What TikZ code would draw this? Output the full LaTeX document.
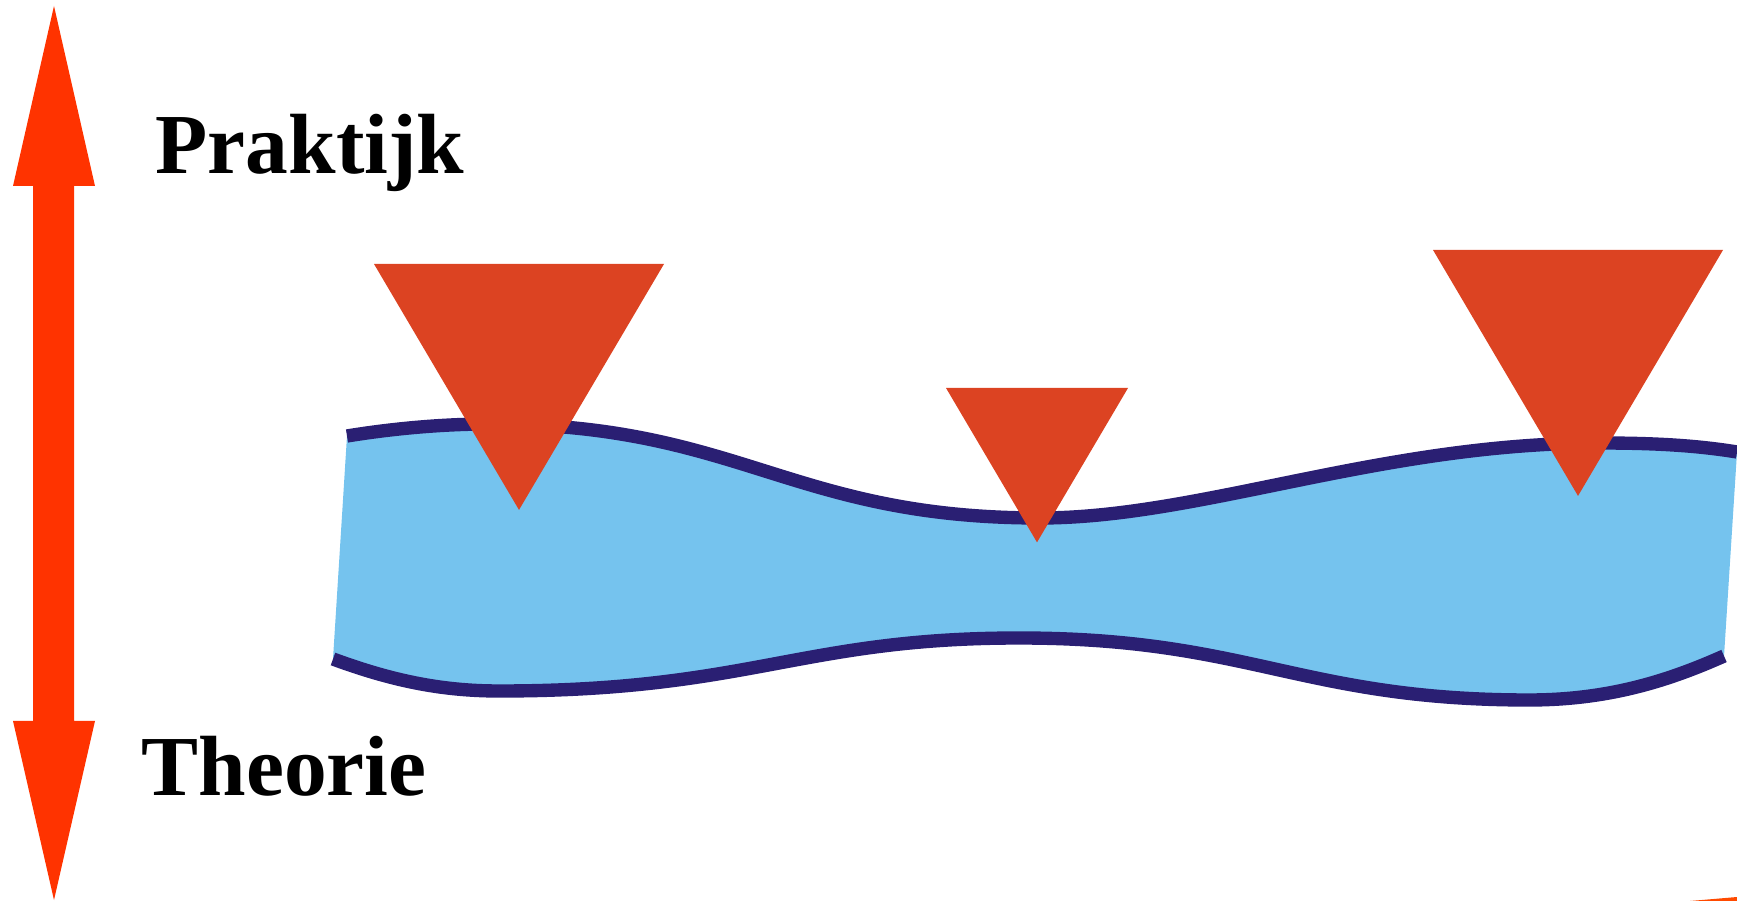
\documentclass[tikz,border=0pt]{standalone}
\usepackage{fontspec}
\setmainfont{Liberation Serif}
\usepackage{tikz}
\definecolor{pijlrood}{RGB}{255,51,0}
\definecolor{wigrood}{RGB}{220,67,34}
\definecolor{bandblauw}{RGB}{117,195,238}
\definecolor{randblauw}{RGB}{42,31,115}

\begin{document}
\begin{tikzpicture}[x=0.01cm, y=-0.01cm,
    kop/.style={inner sep=0pt, anchor=base west, font=\fontsize{24.3}{29}\selectfont\bfseries},
    wig/.style={fill=wigrood},
    rand/.style={draw=randblauw, line width=3.8pt}]
  \useasboundingbox (0,0) rectangle (1737,901);
  \fill[bandblauw] (347,436) .. controls (390,429) and (440,424) .. (490,424)
     .. controls (740,424) and (790,518) .. (1040,518)
     .. controls (1200,518) and (1380,443) .. (1600,443)
     .. controls (1660,443) and (1700,446) .. (1737,452)
     -- (1724,656) .. controls (1670,680) and (1610,700) .. (1529,700)
     .. controls (1300,700) and (1250,638) .. (1019,638)
     .. controls (800,638) and (750,691) .. (499,691)
     .. controls (440,691) and (390,680) .. (333,659) -- cycle;
  \draw[rand] (347,436) .. controls (390,429) and (440,424) .. (490,424)
     .. controls (740,424) and (790,518) .. (1040,518)
     .. controls (1200,518) and (1380,443) .. (1600,443)
     .. controls (1660,443) and (1700,446) .. (1737,452);
  \draw[rand] (333,659) .. controls (390,680) and (440,691) .. (499,691)
     .. controls (750,691) and (800,638) .. (1019,638)
     .. controls (1250,638) and (1300,700) .. (1529,700)
     .. controls (1610,700) and (1670,680) .. (1724,656);
  \foreach \cx/\ty/\w in {519/264/290, 1037/388/182, 1578/250/290}
     \fill[wig] ({\cx-\w/2},\ty) -- ({\cx+\w/2},\ty) -- (\cx,{\ty+0.848*\w}) -- cycle;
  \fill[pijlrood] (54,6) -- (95,186) -- (74,186) -- (74,721) -- (95,721) -- (54,900)
     -- (13,721) -- (33,721) -- (33,186) -- (13,186) -- cycle;
  \fill[pijlrood!70!orange] (1690,901) -- (1737,897) -- (1737,901) -- cycle;
  \node[kop] (praktijk) at (155,174) {Praktijk};
  \node[kop] (theorie) at (141,795) {Theorie};
\end{tikzpicture}
\end{document}
